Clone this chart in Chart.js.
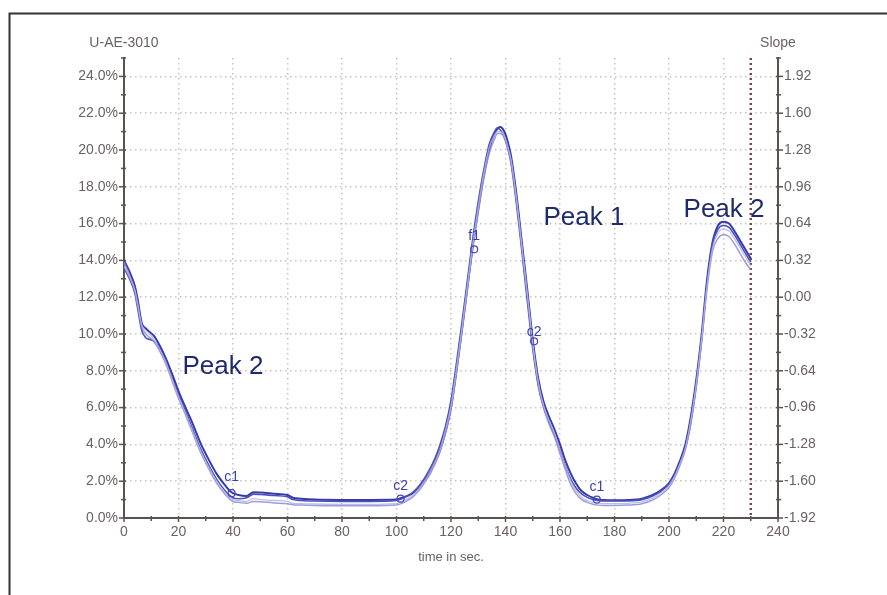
<!DOCTYPE html>
<html>
<head>
<meta charset="utf-8">
<script src="https://cdn.jsdelivr.net/npm/chart.js@4.4.0/dist/chart.umd.min.js"></script>
<style>
  html, body { margin: 0; padding: 0; background: #fff; }
  #wrap { width: 887px; height: 595px; }
</style>
</head>
<body>
<div id="wrap"><canvas id="chart" width="887" height="595"></canvas></div>
<script>
// time axis (seconds) shared by all runs
const timeSec = [0,2,4,5,6.5,8,9.5,11,13,15, 18,20,22,25,28,31,34,37,39,40,
  42,45,47.5,50,55,60,62,65,70,80, 90,100,102,104,106,108,110,112,114,116,
  118,120,122,124,126,128,130,132,134,136, 137,138,139,140,141,142,144,146,148,150,
  152,154,156,158,160,162,164,166,168,170, 172,174,176,180,185,190,194,197,200,202,
  204,206,208,210,212,214,216,218,220,222, 224,226,228,230];

// percent values per run
const runA = [14.0,13.4,12.6,11.9,10.6,10.3,10.1,9.9,9.4,8.8, 7.7,6.9,6.2,5.2,4.1,3.2,2.4,1.8,1.45,1.35,
  1.25,1.2,1.4,1.38,1.32,1.25,1.1,1.05,1.0,0.98, 0.98,1.0,1.1,1.2,1.35,1.6,2.0,2.4,3.0,3.7,
  4.7,6.0,8.0,10.2,12.5,14.8,16.8,18.6,20.0,20.9, 21.15,21.25,21.15,20.85,20.35,19.7,17.6,15.0,12.4,9.7,
  7.6,6.3,5.5,4.8,4.0,3.1,2.4,1.85,1.45,1.25, 1.1,1.0,0.98,0.97,0.98,1.05,1.25,1.5,1.9,2.4,
  3.1,4.0,5.5,7.5,10.0,13.0,15.0,15.9,16.1,16.0, 15.6,15.1,14.6,14.1];
const runB = [13.6,13.0,12.2,11.4,10.2,9.8,9.7,9.6,9.2,8.6, 7.5,6.7,6.0,4.9,3.8,2.9,2.1,1.5,1.2,1.1,
  1.05,1.1,1.3,1.28,1.22,1.15,1.0,0.95,0.92,0.9, 0.9,0.95,1.05,1.2,1.4,1.7,2.1,2.6,3.2,4.0,
  5.0,6.4,8.4,10.6,12.9,15.2,17.2,18.9,20.3,21.0, 21.2,21.1,20.9,20.5,20.0,19.3,17.1,14.5,11.8,9.2,
  7.2,6.0,5.2,4.5,3.7,2.8,2.1,1.6,1.3,1.12, 1.0,0.95,0.92,0.92,0.93,1.0,1.2,1.45,1.85,2.3,
  3.0,3.8,5.2,7.2,9.7,12.8,14.9,15.7,15.9,15.8, 15.4,14.9,14.4,13.9];
const runC = [13.9,13.2,12.3,11.5,10.4,10.0,9.8,9.6,9.1,8.5, 7.3,6.5,5.8,4.7,3.6,2.7,1.9,1.3,1.0,0.9,
  0.85,0.8,0.9,0.88,0.82,0.78,0.72,0.7,0.68,0.66, 0.66,0.7,0.8,0.95,1.15,1.45,1.85,2.3,2.9,3.6,
  4.6,5.9,7.9,10.1,12.4,14.7,16.6,18.4,19.8,20.6, 20.9,20.9,20.8,20.5,20.0,19.4,17.3,14.7,12.1,9.4,
  7.3,6.0,5.1,4.4,3.5,2.6,1.8,1.3,1.0,0.85, 0.75,0.7,0.68,0.68,0.7,0.78,0.98,1.25,1.65,2.15,
  2.85,3.7,5.1,7.1,9.6,12.5,14.5,15.2,15.4,15.3, 14.9,14.4,13.9,13.5];
const runD = [13.7,13.1,12.4,11.7,10.5,10.2,10.0,9.7,9.2,8.6, 7.4,6.6,5.9,4.8,3.7,2.8,2.0,1.4,1.1,1.0,
  0.95,0.9,1.05,1.0,0.95,0.9,0.8,0.78,0.76,0.74, 0.74,0.78,0.9,1.05,1.25,1.55,1.95,2.4,3.0,3.7,
  4.8,6.1,8.1,10.3,12.6,14.9,16.9,18.7,20.1,20.8, 21.0,21.0,20.9,20.6,20.1,19.5,17.4,14.8,12.2,9.5,
  7.4,6.1,5.3,4.6,3.7,2.8,2.0,1.45,1.12,0.95, 0.85,0.8,0.78,0.78,0.8,0.88,1.08,1.35,1.75,2.25,
  2.95,3.8,5.3,7.3,9.8,12.7,14.7,15.5,15.7,15.6, 15.2,14.7,14.2,13.7];

// axis ticks
const timeTicks = [0,20,40,60,80,100,120,140,160,180,200,220,240];
const pctTicks = [0,2,4,6,8,10,12,14,16,18,20,22,24];
const slopeTicks = ['1.92','1.60','1.28','0.96','0.64','0.32','0.00','-0.32','-0.64','-0.96','-1.28','-1.60','-1.92'];
const endTime = 230;

// point labels on the curves
const markText = ['c1','c2','f1','c2','c1'];
const markTime = [39.5, 101.5, 128.5, 150.5, 173.5];
const markTextPct = [2.2, 1.75, 15.3, 10.1, 1.65];
const markPct = [1.35, 1.05, 14.6, 9.6, 1.0];

// peak captions
const peakText = ['Peak 2','Peak 1','Peak 2'];
const peakTime = [36.3, 168.8, 220.2];
const peakPct = [8.2, 16.3, 16.75];

const toPts = arr => arr.map((v, i) => ({x: timeSec[i], y: v}));
const axisColor = '#5e524e';
const labelColor = '#6a6262';
const gridColor = 'rgba(200,185,180,0.9)';

const extras = {
  id: 'extras',
  beforeDatasetsDraw(chart) {
    const {ctx, scales: {x, y}} = chart;
    const px = x.getPixelForValue(endTime);
    ctx.save();
    ctx.strokeStyle = '#7a4848';
    ctx.lineWidth = 2.5;
    ctx.setLineDash([2, 3]);
    ctx.beginPath();
    ctx.moveTo(px, y.getPixelForValue(25));
    ctx.lineTo(px, y.getPixelForValue(0));
    ctx.stroke();
    ctx.restore();
  },
  afterDraw(chart) {
    const {ctx, scales: {x, y}} = chart;
    ctx.save();
    // frame
    ctx.strokeStyle = '#333';
    ctx.lineWidth = 2;
    ctx.beginPath();
    ctx.moveTo(9.5, 595);
    ctx.lineTo(9.5, 13.5);
    ctx.lineTo(887, 13.5);
    ctx.stroke();

    // tick marks on axes
    ctx.strokeStyle = axisColor;
    ctx.lineWidth = 1.5;
    const y0 = y.getPixelForValue(0);
    for (let t = 0; t <= 240; t += 10) {
      const p = x.getPixelForValue(t);
      const major = t % 20 === 0;
      ctx.beginPath();
      ctx.moveTo(p, y0 - 2);
      ctx.lineTo(p, y0 + (major ? 4 : 3));
      ctx.stroke();
    }
    const xl = x.getPixelForValue(0), xr = x.getPixelForValue(240);
    for (let v = 0; v <= 25; v += 1) {
      const p = y.getPixelForValue(v);
      const major = v % 2 === 0 && v <= 24;
      ctx.beginPath();
      ctx.moveTo(xl - (major ? 5 : 3), p);
      ctx.lineTo(xl + 2, p);
      ctx.stroke();
      ctx.beginPath();
      ctx.moveTo(xr - 2, p);
      ctx.lineTo(xr + (major ? 5 : 3), p);
      ctx.stroke();
    }

    // axis captions
    ctx.fillStyle = labelColor;
    ctx.font = '14px "Liberation Sans", Arial, sans-serif';
    ctx.textAlign = 'center';
    ctx.textBaseline = 'middle';
    ctx.fillText('U-AE-3010', xl, 43);
    ctx.fillText('Slope', xr, 43);
    ctx.font = '13px "Liberation Sans", Arial, sans-serif';
    ctx.fillText('time in sec.', x.getPixelForValue(120), 557);

    // markers
    ctx.strokeStyle = '#4448b0';
    ctx.fillStyle = '#3a3fae';
    ctx.lineWidth = 1.2;
    ctx.font = '14px "Liberation Sans", Arial, sans-serif';
    markText.forEach((s, i) => {
      const px = x.getPixelForValue(markTime[i]);
      ctx.fillText(s, px, y.getPixelForValue(markTextPct[i]));
      ctx.beginPath();
      ctx.arc(px, y.getPixelForValue(markPct[i]), 3.5, 0, Math.PI * 2);
      ctx.stroke();
    });

    // peak captions
    ctx.fillStyle = '#1e2a6e';
    ctx.font = '26px "Liberation Sans", Arial, sans-serif';
    peakText.forEach((s, i) => {
      ctx.fillText(s, x.getPixelForValue(peakTime[i]), y.getPixelForValue(peakPct[i]));
    });
    ctx.restore();
  }
};

const tickFont = {family: '"Liberation Sans", Arial, sans-serif', size: 14};

new Chart(document.getElementById('chart'), {
  type: 'line',
  data: {
    datasets: [
      {data: toPts(runD), borderColor: 'rgba(178,178,232,0.85)', borderWidth: 1.3},
      {data: toPts(runC), borderColor: 'rgba(140,140,215,0.85)', borderWidth: 1.5},
      {data: toPts(runB), borderColor: '#4c51ba', borderWidth: 1.6},
      {data: toPts(runA), borderColor: '#363ba8', borderWidth: 2}
    ]
  },
  options: {
    responsive: false,
    animation: false,
    layout: {padding: {top: 58, left: 0, right: 0, bottom: 0}},
    elements: {point: {radius: 0}, line: {cubicInterpolationMode: 'monotone', fill: false}},
    plugins: {legend: {display: false}, tooltip: {enabled: false}},
    scales: {
      x: {
        type: 'linear', min: 0, max: 240,
        afterFit: s => { s.height = 77; },
        afterBuildTicks: s => { s.ticks = timeTicks.map(v => ({value: v})); },
        ticks: {color: labelColor, font: tickFont, padding: 6, maxRotation: 0, autoSkip: false},
        grid: {color: gridColor, lineWidth: 1.5, drawTicks: false},
        border: {color: axisColor, width: 2, dash: [1.5, 3.5]}
      },
      y: {
        position: 'left', min: 0, max: 25,
        afterFit: s => { s.width = 124; },
        afterBuildTicks: s => { s.ticks = pctTicks.map(v => ({value: v})); },
        ticks: {color: labelColor, font: tickFont, padding: 6, autoSkip: false,
          callback: v => v.toFixed(1) + '%'},
        grid: {color: gridColor, lineWidth: 1.5, drawTicks: false},
        border: {color: axisColor, width: 2, dash: [1.5, 3.5]}
      },
      y2: {
        position: 'right', min: -1.92, max: 2.08,
        afterFit: s => { s.width = 109; },
        afterBuildTicks: s => { s.ticks = slopeTicks.map(v => ({value: parseFloat(v)})); },
        ticks: {color: labelColor, font: tickFont, padding: 6, autoSkip: false,
          callback: (v, i) => slopeTicks[i]},
        grid: {drawOnChartArea: false, drawTicks: false},
        border: {color: axisColor, width: 2}
      }
    }
  },
  plugins: [extras]
});
</script>
</body>
</html>
